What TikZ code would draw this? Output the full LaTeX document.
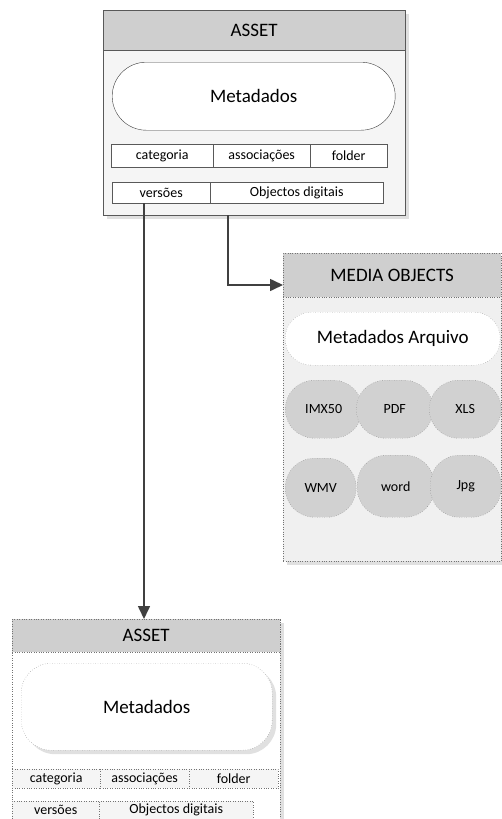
\documentclass[tikz,border=0pt]{standalone}
\usepackage{fontspec}
\setmainfont{Carlito}
\usetikzlibrary{arrows.meta,shadows}

\begin{document}
\begin{tikzpicture}[x=1pt,y=-1pt,
  wh/.style 2 args={minimum width=#1pt,minimum height=#2pt},
  box/.style={draw=black!65,fill=black!4,anchor=north west,inner sep=0pt},
  hdr/.style={draw=black!65,fill=black!19,anchor=north west,inner sep=0pt,font=\fontsize{19}{22}\selectfont},
  pill/.style={draw=black!75,fill=white,anchor=north west,inner sep=0pt,font=\fontsize{19}{22}\selectfont},
  cell/.style={draw=black!65,fill=white,anchor=north west,inner sep=0pt,font=\fontsize{14}{16}\selectfont},
  blob/.style={draw=black!55,dotted,fill=black!18,rounded corners=29pt,anchor=north west,inner sep=0pt,font=\fontsize{14}{16}\selectfont},
  dots/.style={draw=black!55,dotted},
  shd/.style={drop shadow={shadow xshift=4pt,shadow yshift=-4pt,fill=black!12,opacity=1}},
  arr/.style={draw=black!75,line width=1.6pt,-{Triangle[length=13pt,width=12pt]}}]
  \useasboundingbox (0,0) rectangle (502,819);
  \clip (0,0) rectangle (502,819);
  % top asset
  \node[box,shd,wh={302}{205}] (asset) at (103,10) {};
  \node[hdr,wh={302}{40}] (assethd) at (103,10) {ASSET};
  \node[pill,rounded corners=34pt,wh={283}{68}] (meta) at (112,62) {Metadados};
  \node[cell,wh={102}{23}] (cat) at (111,144) {categoria};
  \node[cell,wh={97}{23}] (assoc) at (213,144) {associações};
  \node[cell,wh={77}{23}] (folder) at (310,144) {folder};
  \node[cell,wh={98}{21}] (vers) at (112,182) {versões};
  \node[cell,wh={173}{21}] (objd) at (210,182) {Objectos digitais};
  % media objects
  \node[box,dots,fill=black!6,shd,wh={218}{308}] (media) at (283,253) {};
  \node[hdr,dots,wh={218}{44}] (mediahd) at (283,253) {MEDIA OBJECTS};
  \node[pill,dots,rounded corners=26pt,wh={215}{53}] (metaarq) at (285,312) {Metadados Arquivo};
  \node[blob,wh={77}{58}] (imx) at (285,380) {IMX50};
  \node[blob,wh={77}{58}] (pdf) at (356,380) {PDF};
  \node[blob,wh={72}{58}] (xls) at (429,380) {XLS};
  \node[blob,wh={71}{59}] (wmv) at (285,458) {WMV};
  \node[blob,wh={77}{62}] (word) at (357,455) {word};
  \node[blob,wh={71}{62}] (jpg) at (430,455) {Jpg};
  % bottom asset
  \node[box,dots,fill=white,shd,wh={268}{215}] (asset2) at (12,619) {};
  \node[hdr,dots,wh={268}{33}] (asset2hd) at (12,619) {ASSET};
  \node[pill,dots,shd,rounded corners=30pt,wh={251}{87}] (meta2) at (21,663) {Metadados};
  \node[cell,dots,fill=black!4,wh={88}{19}] (cat2) at (12,769) {categoria};
  \node[cell,dots,fill=black!4,wh={89}{19}] (assoc2) at (100,769) {associações};
  \node[cell,dots,fill=black!4,wh={89}{19}] (folder2) at (189,769) {folder};
  \node[cell,dots,fill=black!4,wh={87}{18}] (vers2) at (12,801) {versões};
  \node[cell,dots,fill=black!4,wh={154}{18}] (objd2) at (99,801) {Objectos digitais};
  % connectors
  \draw[arr] ([xshift=32pt]vers.south west) -- ([xshift=132pt]asset2.north west);
  \draw[arr] ([xshift=125pt]asset.south west) |- ([yshift=-32pt]media.north west);
\end{tikzpicture}
\end{document}
